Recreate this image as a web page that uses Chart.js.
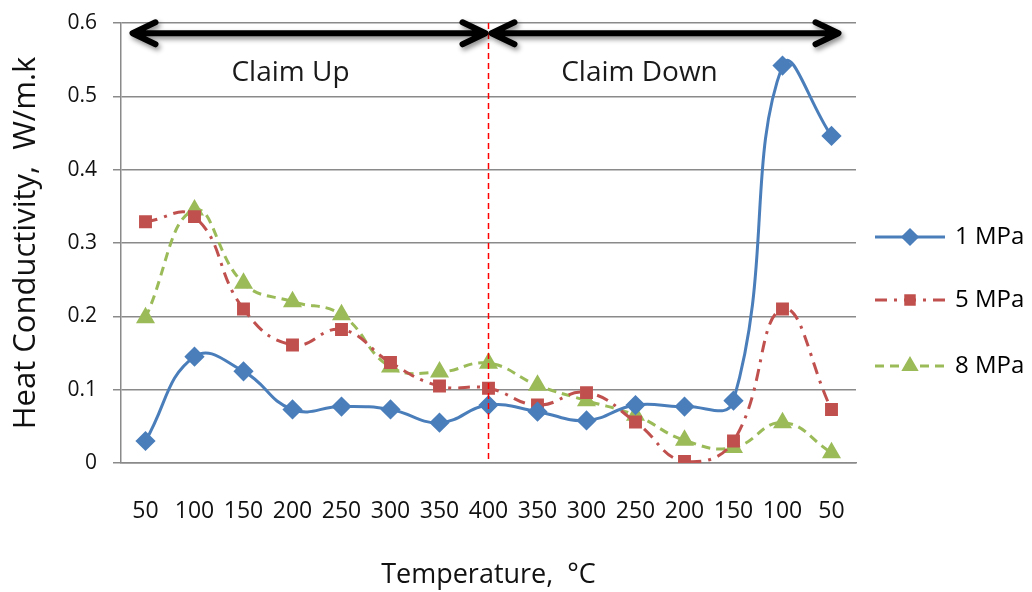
<!DOCTYPE html>
<html>
<head>
<meta charset="utf-8">
<script src="https://cdn.jsdelivr.net/npm/chart.js@4"></script>
<style>
  html, body { margin: 0; padding: 0; background: #ffffff; }
  #wrap { width: 1032px; height: 592px; }
</style>
</head>
<body>
<div id="wrap"><canvas id="c" width="1032" height="592"></canvas></div>
<script>
const categories = ['50','100','150','200','250','300','350','400','350','300','250','200','150','100','50'];
const mpa1 = [0.030, 0.145, 0.125, 0.073, 0.077, 0.073, 0.055, 0.079, 0.070, 0.058, 0.079, 0.077, 0.085, 0.542, 0.446];
const mpa5 = [0.329, 0.336, 0.210, 0.161, 0.182, 0.137, 0.105, 0.102, 0.079, 0.096, 0.056, 0.002, 0.030, 0.210, 0.073];
const mpa8 = [0.198, 0.345, 0.245, 0.220, 0.202, 0.131, 0.124, 0.136, 0.106, 0.085, 0.065, 0.031, 0.021, 0.055, 0.014];
const seriesNames = ['1 MPa', '5 MPa', '8 MPa'];
const yTitle = 'Heat Conductivity,  W/m.k';
const xTitle = 'Temperature,  °C';
const phaseLabels = ['Claim Up', 'Claim Down'];
const turnIndex = 7;

const FONT = "'Open Sans', 'Noto Sans', sans-serif";

const overlay = {
  id: 'overlay',
  afterDatasetsDraw(chart) {
    const ctx = chart.ctx;
    const xs = chart.scales.x, ys = chart.scales.y;
    const ca = chart.chartArea;
    const xt = xs.getPixelForValue(turnIndex);
    // red dashed vertical divider
    ctx.save();
    ctx.strokeStyle = '#ff0000';
    ctx.lineWidth = 1.5;
    ctx.setLineDash([6, 4]);
    ctx.beginPath();
    ctx.moveTo(xt, ca.top);
    ctx.lineTo(xt, ca.bottom);
    ctx.stroke();
    ctx.restore();

    // double arrows
    const ay = ys.getPixelForValue(0.586);
    const drawArrow = (x1, x2) => {
      ctx.save();
      ctx.shadowColor = 'rgba(0,0,0,0.45)';
      ctx.shadowBlur = 5;
      ctx.shadowOffsetX = 2;
      ctx.shadowOffsetY = 3;
      ctx.strokeStyle = '#000';
      ctx.lineWidth = 6;
      ctx.lineCap = 'round';
      ctx.lineJoin = 'round';
      ctx.beginPath();
      ctx.moveTo(x1 + 2, ay);
      ctx.lineTo(x2 - 2, ay);
      ctx.moveTo(x1 + 24, ay - 11);
      ctx.lineTo(x1 + 1, ay);
      ctx.lineTo(x1 + 24, ay + 11);
      ctx.moveTo(x2 - 24, ay - 11);
      ctx.lineTo(x2 - 1, ay);
      ctx.lineTo(x2 - 24, ay + 11);
      ctx.stroke();
      ctx.restore();
    };
    const x0 = xs.getPixelForValue(0) - 14;
    const xe = xs.getPixelForValue(categories.length - 1) + 8;
    drawArrow(x0, xt - 2);
    drawArrow(xt + 2, xe);

    // phase labels
    ctx.save();
    ctx.fillStyle = '#1a1a1a';
    ctx.font = '28px ' + FONT;
    ctx.textAlign = 'center';
    ctx.textBaseline = 'middle';
    const ly = ys.getPixelForValue(0.532);
    ctx.fillText(phaseLabels[0], xs.getPixelForValue(3) - 2, ly);
    ctx.fillText(phaseLabels[1], xs.getPixelForValue(10) + 4, ly);
    ctx.restore();

    // legend
    const rows = [237, 300, 366];
    chart.data.datasets.forEach((ds, i) => {
      const y = rows[i];
      ctx.save();
      ctx.strokeStyle = ds.borderColor;
      ctx.lineWidth = ds.borderWidth;
      ctx.setLineDash(ds.borderDash || []);
      ctx.beginPath();
      ctx.moveTo(875, y);
      ctx.lineTo(945, y);
      ctx.stroke();
      ctx.setLineDash([]);
      Chart.helpers.drawPoint(ctx, {
        pointStyle: ds.pointStyle, radius: ds.pointRadius - 1, rotation: 0,
        borderWidth: 1
      }, 910, y);
      ctx.fillStyle = ds.pointBackgroundColor;
      ctx.fill();
      ctx.fillStyle = '#000';
      ctx.font = '24px ' + FONT;
      ctx.textAlign = 'left';
      ctx.textBaseline = 'middle';
      ctx.fillText(ds.label, 955, y);
      ctx.restore();
    });
  }
};

new Chart(document.getElementById('c'), {
  type: 'line',
  data: {
    labels: categories,
    datasets: [
      {
        label: seriesNames[0], data: mpa1,
        borderColor: '#4a7ebb', backgroundColor: '#4a7ebb',
        pointBackgroundColor: '#4a7ebb', pointBorderColor: '#4a7ebb',
        borderWidth: 3, pointStyle: 'rectRot', pointRadius: 8, tension: 0.45
      },
      {
        label: seriesNames[1], data: mpa5,
        borderColor: '#c0504d', backgroundColor: '#c0504d',
        pointBackgroundColor: '#c0504d', pointBorderColor: '#c0504d',
        borderWidth: 3, borderDash: [12, 7, 3, 7], pointStyle: 'rect', pointRadius: 7, tension: 0.45
      },
      {
        label: seriesNames[2], data: mpa8,
        borderColor: '#9bbb59', backgroundColor: '#9bbb59',
        pointBackgroundColor: '#9bbb59', pointBorderColor: '#9bbb59',
        borderWidth: 3, borderDash: [9, 6], pointStyle: 'triangle', pointRadius: 8, tension: 0.45
      }
    ]
  },
  options: {
    responsive: false,
    animation: false,
    devicePixelRatio: 1,
    layout: { padding: { left: 0, top: 23, right: 176, bottom: 0 } },
    plugins: { legend: { display: false }, tooltip: { enabled: false } },
    scales: {
      x: {
        type: 'category',
        offset: true,
        grid: { display: false, drawTicks: false },
        border: { display: true, color: '#8a8a8a', width: 1.5 },
        ticks: { color: '#111', font: { family: FONT, size: 23 }, padding: 35, maxRotation: 0, autoSkip: false },
        title: { display: true, text: xTitle, color: '#111', font: { family: FONT, size: 27 }, padding: { top: 0, bottom: 0 } },
        afterFit(s) { s.height = 129; }
      },
      y: {
        min: 0, max: 0.6,
        grid: { color: '#8a8a8a', lineWidth: 1.5, tickLength: 8 },
        border: { display: true, color: '#8a8a8a', width: 1.5 },
        ticks: {
          stepSize: 0.1, color: '#111', font: { family: FONT, size: 21 }, padding: 16,
          callback: v => (Math.abs(v) < 1e-9 ? '0' : v.toFixed(1))
        },
        title: { display: true, text: yTitle, color: '#111', font: { family: FONT, size: 31 }, padding: { top: 8, bottom: 0 } },
        afterFit(s) { s.width = 121; s.paddingTop = 0; s.paddingBottom = 0; }
      }
    }
  },
  plugins: [overlay]
});
</script>
</body>
</html>
